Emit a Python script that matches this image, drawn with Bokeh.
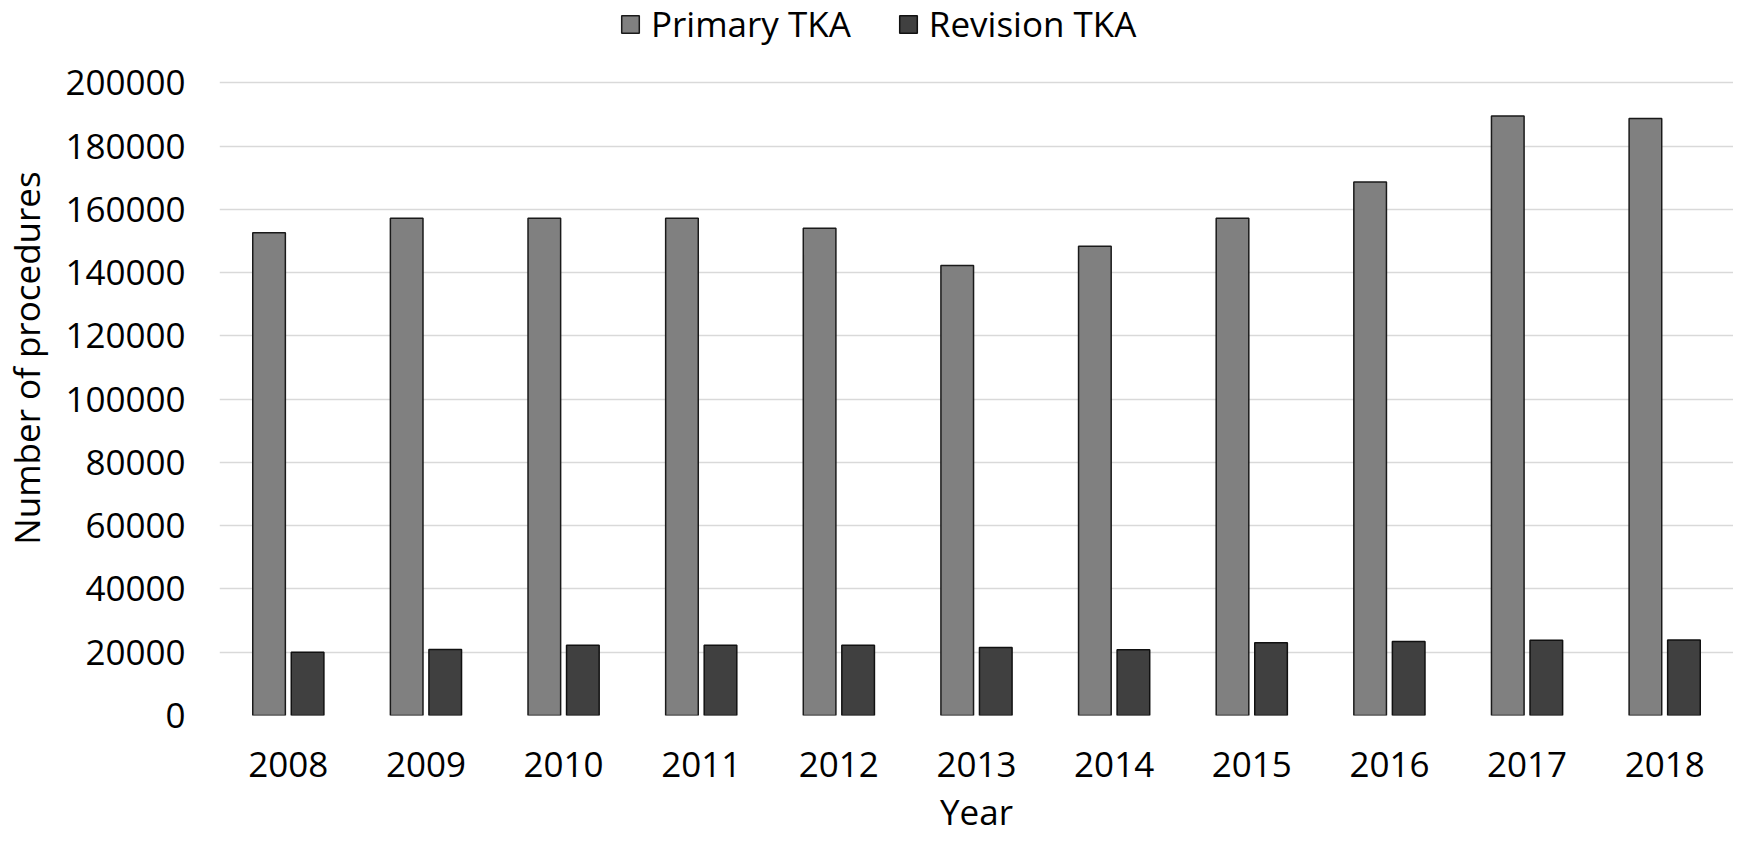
from bokeh.plotting import figure
from bokeh.models import ColumnDataSource, Range1d, FactorRange, FixedTicker, Legend, LegendItem, NumeralTickFormatter
from bokeh.transform import dodge
from bokeh.embed import file_html
from bokeh.resources import INLINE

years = ["2008", "2009", "2010", "2011", "2012", "2013", "2014", "2015", "2016", "2017", "2018"]
primary_tka = [152600, 157200, 157200, 157200, 154000, 142200, 148300, 157200, 168600, 189500, 188700]
revision_tka = [20000, 20900, 22200, 22200, 22200, 21500, 20800, 23000, 23400, 23800, 23900]
y_ticks = [0, 20000, 40000, 60000, 80000, 100000, 120000, 140000, 160000, 180000, 200000]

FONT = "Open Sans"

source = ColumnDataSource(data=dict(year=years, primary=primary_tka, revision=revision_tka))

W, H = 1733, 837
# the frame reaches the top of the figure so the legend can sit above the 200000 gridline
p = figure(
    x_range=FactorRange(*years, range_padding=0),
    y_range=Range1d(0, 226000),
    width=W, height=H,
    output_backend="svg", toolbar_location=None,
    min_border_left=213, min_border_right=0, min_border_top=0, min_border_bottom=100,
)

r1 = p.vbar(x=dodge("year", -0.14, range=p.x_range), top="primary", width=0.237, source=source,
            fill_color="#808080", line_color="#1a1a1a", line_width=1.5)
r2 = p.vbar(x=dodge("year", 0.14, range=p.x_range), top="revision", width=0.237, source=source,
            fill_color="#404040", line_color="#111111", line_width=1.5)

p.outline_line_color = None
p.background_fill_color = "white"
p.xgrid.grid_line_color = None
p.ygrid.grid_line_color = "#d9d9d9"
p.ygrid.grid_line_width = 1.5

p.yaxis.ticker = FixedTicker(ticks=y_ticks)
p.yaxis.formatter = NumeralTickFormatter(format="0")
for ax in (p.xaxis[0], p.yaxis[0]):
    ax.axis_line_color = None
    ax.major_tick_line_color = None
    ax.minor_tick_line_color = None
    ax.major_tick_out = 0
    ax.major_tick_in = 0
    ax.minor_tick_out = 0
    ax.minor_tick_in = 0
    ax.major_label_text_font = FONT
    ax.major_label_text_font_size = "35px"
    ax.major_label_text_color = "#000000"
    ax.axis_label_text_font = FONT
    ax.axis_label_text_font_size = "35px"
    ax.axis_label_text_font_style = "normal"
    ax.axis_label_text_color = "#000000"

p.xaxis.axis_label = "Year"
p.yaxis.axis_label = "Number of procedures"
p.xaxis.major_label_standoff = 36
p.xaxis.axis_label_standoff = 8
p.yaxis.major_label_standoff = 34
p.yaxis.axis_label_standoff = 12

legend = Legend(
    items=[LegendItem(label="Primary TKA", renderers=[r1]),
           LegendItem(label="Revision TKA", renderers=[r2])],
    orientation="horizontal",
    location=(400, 668),
    label_text_font=FONT, label_text_font_size="35px", label_text_color="#000000",
    glyph_width=22, glyph_height=22, label_standoff=10, spacing=46,
    padding=0, margin=0, border_line_color=None, background_fill_alpha=0,
)
p.add_layout(legend, "center")

open("out.html", "w").write(file_html(p, INLINE))
